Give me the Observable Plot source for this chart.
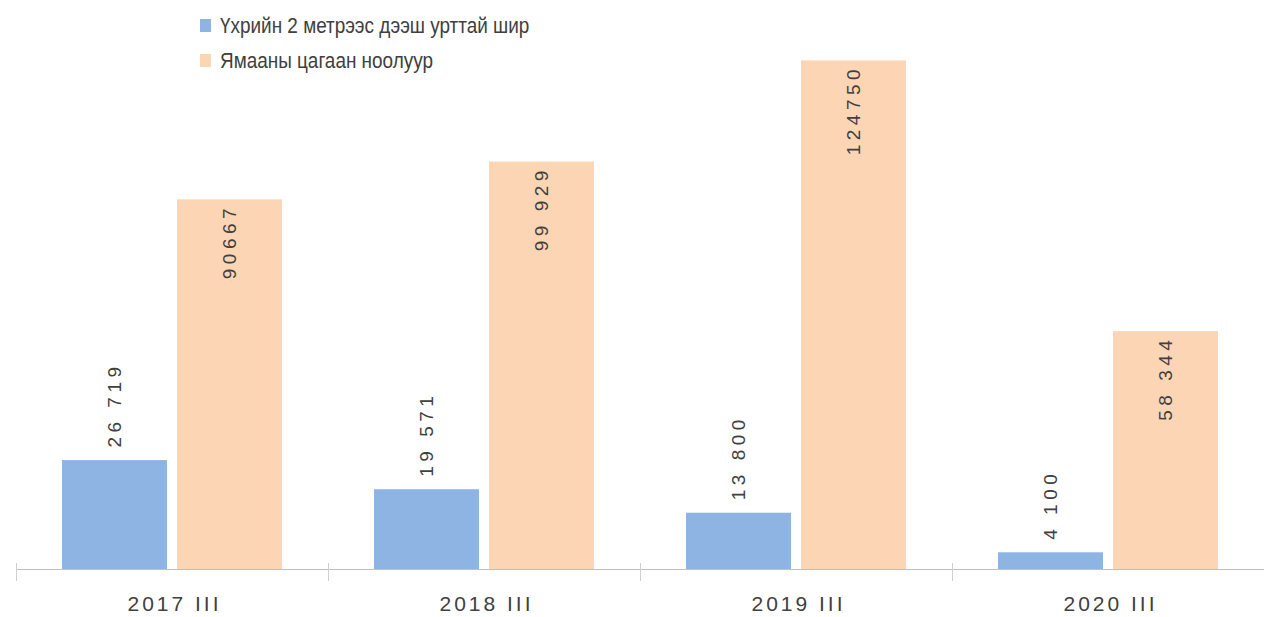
<!DOCTYPE html>
<html>
<head>
<meta charset="utf-8">
<script src="https://cdn.jsdelivr.net/npm/d3@7"></script>
<script src="https://cdn.jsdelivr.net/npm/@observablehq/plot@0.6"></script>
<style>
  html, body { margin: 0; padding: 0; background: #fff; }
  #wrap { position: relative; width: 1264px; height: 617px; overflow: hidden; }
  #legend { position: absolute; left: 200px; top: 8px; font-family: "Liberation Sans Narrow", "Liberation Sans", sans-serif; font-size: 22px; color: #404040; }
  .item { display: flex; align-items: center; height: 35px; white-space: nowrap; }
  .sw { width: 11px; height: 13px; margin-right: 9px; flex: none; }
  .txt { display: inline-block; transform: scaleX(0.86); transform-origin: left center; }
  #chart svg text { font-family: "Liberation Sans", sans-serif; }
  #chart g[aria-label="fx-axis tick label"] text { letter-spacing: 3px; }
  #chart .vlabel text { letter-spacing: 4.5px; }
</style>
</head>
<body>
<div id="wrap">
  <div id="chart"></div>
  <div id="legend"></div>
</div>
<script>
const periods = ["2017 III", "2018 III", "2019 III", "2020 III"];
const seriesNames = ["Үхрийн 2 метрээс дээш урттай шир", "Ямааны цагаан ноолуур"];
const hideValues = [26719, 19571, 13800, 4100];
const cashmereValues = [90667, 99929, 124750, 58344];
const hideLabels = ["26 719", "19 571", "13 800", "4 100"];
const cashmereLabels = ["90667", "99 929", "124750", "58 344"];
const colors = ["#8DB4E3", "#FCD5B5"];

const hideData = periods.map((p, i) => ({period: p, series: seriesNames[0], value: hideValues[i], label: hideLabels[i]}));
const cashData = periods.map((p, i) => ({period: p, series: seriesNames[1], value: cashmereValues[i], label: cashmereLabels[i]}));
const data = hideData.concat(cashData);

const chart = Plot.plot({
  width: 1264,
  height: 617,
  marginLeft: 15,
  marginRight: 0,
  marginTop: 39,
  marginBottom: 48,
  fx: {domain: periods, padding: 0, label: null, axis: null},
  x: {domain: seriesNames, paddingInner: 0.087, paddingOuter: 0.4, axis: null},
  y: {domain: [0, 130000], axis: null},
  color: {domain: seriesNames, range: colors},
  marks: [
    Plot.barY(data, {fx: "period", x: "series", y: "value", fill: "series"}),
    Plot.ruleY([0], {stroke: "#bfbfbf", strokeWidth: 1.2}),
    Plot.frame({anchor: "left", stroke: "#d0d0d0", insetTop: 524, insetBottom: -11}),
    Plot.frame({anchor: "right", stroke: "#d0d0d0", insetTop: 524, insetBottom: -11}),
    Plot.text(hideData, {fx: "period", x: "series", y: "value", text: "label", rotate: -90, textAnchor: "start", dy: -13, fontSize: 19, fill: "#404040", className: "vlabel"}),
    Plot.text(cashData, {fx: "period", x: "series", y: "value", text: "label", rotate: -90, textAnchor: "end", dy: 4, fontSize: 19, fill: "#404040", className: "vlabel"}),
    Plot.axisFx({anchor: "bottom", tickSize: 0, tickPadding: 27, fontSize: 21, color: "#404040", label: null, dx: 2})
  ]
});
document.getElementById("chart").appendChild(chart);

const legend = document.getElementById("legend");
seriesNames.forEach((name, i) => {
  const item = document.createElement("div");
  item.className = "item";
  const sw = document.createElement("span");
  sw.className = "sw";
  sw.style.background = colors[i];
  const t = document.createElement("span");
  t.className = "txt";
  t.textContent = name;
  item.appendChild(sw);
  item.appendChild(t);
  legend.appendChild(item);
});
</script>
</body>
</html>
